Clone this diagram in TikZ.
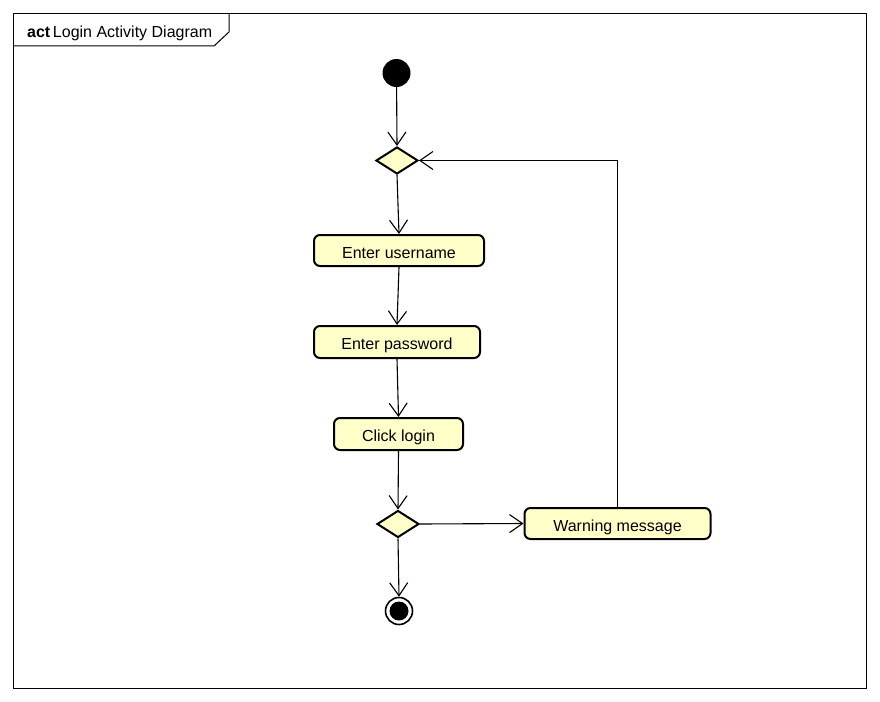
\documentclass[tikz,border=0pt]{standalone}
\usepackage{fontspec}
\setmainfont{Liberation Sans}
\usetikzlibrary{arrows.meta,shapes.geometric}
\definecolor{actfill}{RGB}{255,255,202}
\begin{document}
\begin{tikzpicture}[x=1pt,y=-1pt,
  font=\fontsize{16}{19}\selectfont,
  action/.style={draw, fill=actfill, line width=2pt, rounded corners=6pt,
    inner sep=0pt, align=center, text height=15pt, text depth=0pt},
  decision/.style={diamond, draw, fill=actfill, line width=2pt,
    minimum width=42pt, minimum height=27pt, inner sep=0pt},
  flow/.style={line width=1.1pt, -{Straight Barb[length=13pt,width=18pt,line width=1.1pt]}}]
  \useasboundingbox (0,0) rectangle (880,701);
  % diagram frame and its name tag
  \draw[line width=1pt] (13,14) rectangle (866,688);
  \draw[line width=1pt] (13,46) -- (214,46) -- (229,32) -- (229,14);
  \node[anchor=base west, inner sep=0pt] (title) at (27,37.5)
    {\textbf{act}\,Login Activity Diagram};

  % nodes
  \node[circle, fill=black, minimum size=28pt, inner sep=0pt] (start) at (396.5,73) {};
  \node[decision] (d1) at (397,160.5) {};
  \node[action, minimum width=170pt, minimum height=31pt] (user) at (399,250.5) {Enter username};
  \node[action, minimum width=166pt, minimum height=32pt] (pass) at (397,342) {Enter password};
  \node[action, minimum width=129pt, minimum height=32pt] (click) at (398.5,434) {Click login};
  \node[decision] (d2) at (398,524) {};
  \node[action, minimum width=186pt, minimum height=31pt] (warn) at (617.5,523.5) {Warning message};
  \node[circle, draw, line width=1.6pt, minimum size=27pt, inner sep=0pt] (stop) at (399,611) {};
  \fill (stop.center) circle (9.5pt);

  % control flows
  \draw[flow] (start) -- (d1.north);
  \draw[flow] (d1.south) -- (user.north);
  \draw[flow] (user.south) -- (pass.north);
  \draw[flow] (pass.south) -- (click.north);
  \draw[flow] (click.south) -- (d2.north);
  \draw[flow] (d2.east) -- (warn.west);
  \draw[flow] (d2.south) -- (stop.north);
  \draw[flow] (warn.north) |- (d1.east);
\end{tikzpicture}
\end{document}
